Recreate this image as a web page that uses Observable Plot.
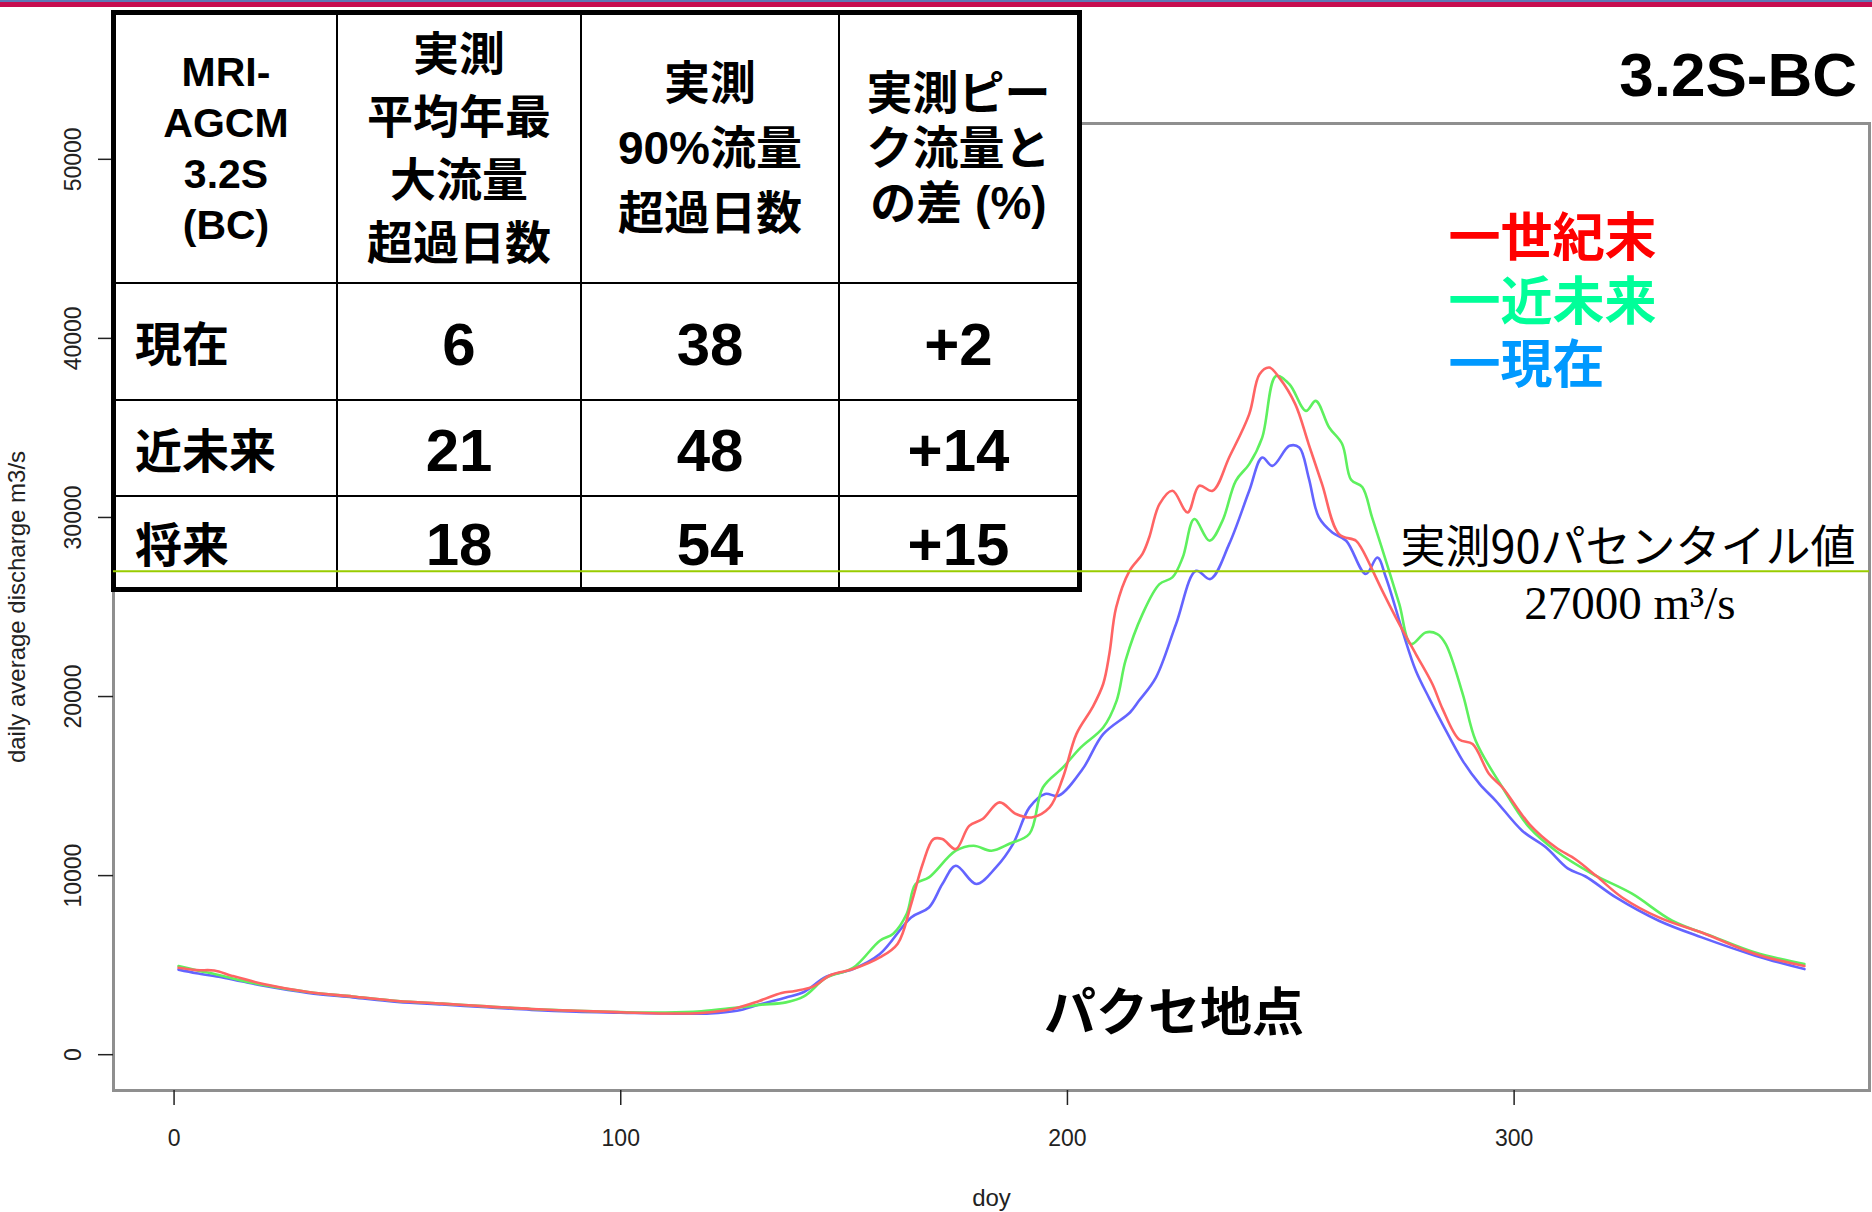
<!DOCTYPE html>
<html><head><meta charset="utf-8">
<script src="https://cdn.jsdelivr.net/npm/d3@7"></script>
<script src="https://cdn.jsdelivr.net/npm/@observablehq/plot@0.6"></script>
<style>
body{margin:0;background:#fff}
#wrap{position:relative;width:1872px;height:1212px;overflow:hidden;background:#fff}
#wrap > svg{position:absolute;left:0;top:0}
.cell{background:#fff;display:flex;flex-direction:column;align-items:center;justify-content:center;text-align:center;white-space:nowrap}
</style></head><body><div id="wrap"></div><script>
// ---- data (day of year, daily average discharge m3/s) ----
const seikimatsu = [[1,4850],[5,4720],[9,4700],[13,4400],[20,3950],[30,3500],[40,3250],[50,3000],[60,2850],[70,2700],[80,2550],[90,2450],[100,2370],[110,2300],[118,2330],[125,2550],[131,3000],[136,3450],[139,3560],[143,3800],[147,4450],[152,4780],[158,5430],[162,6200],[165,8400],[167.6,10650],[170,12040],[172,12040],[175,11480],[178,12780],[181,13160],[184.8,14090],[188.5,13440],[192,13250],[196,13810],[199,15480],[202,17900],[205.6,19390],[208,20700],[209.4,22400],[210.9,24970],[213.9,27020],[216.8,27970],[218.3,28880],[220.6,30740],[223.5,31490],[226.9,30280],[229.5,31770],[232.5,31490],[236.2,33350],[240.7,35770],[243,38000],[245.2,38370],[247.4,37810],[251,36330],[254,34100],[257,31860],[260.8,29070],[264.6,28700],[266,28200],[270.5,25900],[274.3,24040],[278,22370],[281.7,20700],[284,19300],[287.7,17600],[290.7,17350],[294.4,15670],[297.4,14920],[303.4,12880],[309.3,11580],[313.8,10900],[318.3,10000],[324.2,8780],[332.4,7665],[342.8,6740],[354,5620],[365,4950]];
const kinmirai = [[1,4950],[5,4720],[10,4450],[15,4150],[20,3900],[30,3500],[40,3250],[50,3000],[60,2850],[70,2700],[80,2550],[90,2450],[100,2380],[110,2350],[118,2420],[125,2600],[131,2780],[137,2920],[141,3250],[146,4300],[152,4850],[158,6365],[161,6755],[164,7855],[166,9530],[169,9900],[175,11390],[179,11670],[183,11390],[187,11780],[191.5,12340],[194.5,14920],[199,16040],[203,17160],[208,18270],[211,19760],[213,22000],[216.8,24600],[220.6,26280],[223.5,26650],[225.8,27760],[228.4,29910],[231.8,28700],[234.7,29810],[237.7,32050],[240.7,32980],[243.6,34460],[246.7,37900],[249.7,37440],[253.4,35950],[255.6,36510],[258.6,35020],[261.5,34100],[263.5,32100],[266,31700],[268.2,30000],[271.3,27580],[274.3,25160],[276.9,22930],[280.2,23580],[282.8,23490],[284.7,22930],[288.5,20140],[291.4,17530],[297.4,14920],[303.4,12690],[309.3,11390],[317.5,10100],[326.4,8990],[335.4,7480],[345,6550],[354,5710],[365,5060]];
const genzai = [[1,4750],[5,4550],[10,4350],[15,4100],[20,3850],[30,3450],[40,3200],[50,2950],[60,2800],[70,2650],[80,2500],[90,2400],[100,2350],[110,2300],[120,2300],[126,2450],[131,2800],[137,3200],[141,3500],[146,4350],[152,4780],[158,5620],[165,7665],[169,8220],[172,9530],[175,10550],[179.6,9530],[184,10460],[187.8,11760],[191.5,13810],[195,14560],[198,14460],[203.4,15950],[208,17900],[214,19110],[216,19760],[219.8,21060],[224.3,24040],[228.8,27020],[232,26560],[236.2,28510],[240.7,31490],[243.6,33350],[245.9,32880],[249.7,34000],[251.9,33910],[254,32230],[256.3,30000],[259.3,29160],[262.4,28700],[266.8,26840],[269.4,27760],[271.3,26650],[275,23670],[278,21440],[281,19900],[284,18450],[288.5,16410],[292.3,15110],[295.9,14180],[301.8,12510],[307.1,11580],[312,10400],[316,9950],[322.8,8780],[332.4,7480],[342,6550],[354,5530],[365,4780]];
const threshold = 27000;
const xTicks = [0, 100, 200, 300];
const yTicks = [0, 10000, 20000, 30000, 40000, 50000];
const xLabel = "doy";
const yLabel = "daily average discharge m3/s";
const headerCells = [["MRI-","AGCM","3.2S","(BC)"],["実測","平均年最","大流量","超過日数"],["実測","90%流量","超過日数"],["実測ピー","ク流量と","の差 (%)"]];
const scenarios = ["現在","近未来","将来"];
const daysOverAnnualMax = [6, 21, 18];
const daysOver90 = [38, 48, 54];
const peakDiffPct = ["+2", "+14", "+15"];
const legendLabels = ["一世紀末","一近未来","一現在"];
const legendColors = ["#ff0000","#00ff99","#0099ff"];
const modelLabel = "3.2S-BC";
const stationLabel = "パクセ地点";
const thresholdLabel1 = "実測90パセンタイル値";
const thresholdLabel2 = "27000 m³/s";

const toRows = (arr) => arr.map(([day, q]) => ({day, q}));

const wrap = document.getElementById("wrap");
const common = {width:1872, height:1212, marginLeft:113, marginRight:3, marginTop:123, marginBottom:122};
const xDomain = [-13.56, 379.56];
const yDomain = [-2000, 52000];

const chart = Plot.plot({
  ...common,
  style:{background:"transparent", fontFamily:"'Liberation Sans', Arial, sans-serif", color:"#222"},
  x:{domain:xDomain},
  y:{domain:yDomain},
  marks:[
    Plot.frame({stroke:"#8f8f8f", strokeWidth:3}),
    Plot.axisX({ticks:xTicks, tickSize:15, tickPadding:24, fontSize:23, strokeWidth:1.5, label:null, tickFormat:d => String(d)}),
    Plot.axisY({ticks:yTicks, tickSize:15, tickPadding:18, tickRotate:-90, fontSize:23, strokeWidth:1.5, label:null, tickFormat:d => String(d)}),
    Plot.text([xLabel], {frameAnchor:"bottom", dy:108, fontSize:24, lineAnchor:"middle", textAnchor:"middle"}),
    Plot.text([yLabel], {frameAnchor:"left", dx:-96, rotate:-90, fontSize:24, lineAnchor:"middle", textAnchor:"middle"}),
    Plot.line(toRows(genzai), {x:"day", y:"q", stroke:"#6464ff", strokeWidth:2.6, curve:"catmull-rom"}),
    Plot.line(toRows(kinmirai), {x:"day", y:"q", stroke:"#5ef05e", strokeWidth:2.6, curve:"catmull-rom"}),
    Plot.line(toRows(seikimatsu), {x:"day", y:"q", stroke:"#ff6464", strokeWidth:2.6, curve:"catmull-rom"})
  ]
});
wrap.appendChild(chart);

// table
const tbl = document.createElement("div");
tbl.style.cssText = "position:absolute;left:111px;top:10px;width:971px;height:582px;box-sizing:border-box;border:5px solid #000;background:#000;display:grid;grid-template-columns:220px 242px 256px 237px;grid-template-rows:267px 115px 94px 90px;gap:2px;font-family:'Liberation Sans','Noto Sans CJK JP',sans-serif;font-weight:bold;color:#000";
const headerStyles = [
  {fs:41, lh:51},{fs:46, lh:63},{fs:46, lh:65},{fs:46, lh:55}
];
headerCells.forEach((lines, i) => {
  const c = document.createElement("div");
  c.className = "cell";
  c.style.fontSize = headerStyles[i].fs + "px";
  c.style.lineHeight = headerStyles[i].lh + "px";
  c.innerHTML = lines.map(l => `<div>${l}</div>`).join("");
  tbl.appendChild(c);
});
scenarios.forEach((s, r) => {
  const vals = [s, String(daysOverAnnualMax[r]), String(daysOver90[r]), peakDiffPct[r]];
  vals.forEach((v, i) => {
    const c = document.createElement("div");
    c.className = "cell";
    c.style.lineHeight = "1";
    c.style.paddingTop = "6px";
    if (i === 0) {
      c.style.alignItems = "flex-start";
      c.style.paddingLeft = "19px";
      c.style.fontSize = "47px";
    } else {
      c.style.fontSize = "60px";
    }
    c.textContent = v;
    tbl.appendChild(c);
  });
});
wrap.appendChild(tbl);

// overlay: threshold rule, its labels and the legend, drawn above the table
const cjk = "'Noto Sans CJK JP', sans-serif";
const cjkCompact = "'Liberation Sans', 'Noto Sans CJK JP', sans-serif";
const overlay = Plot.plot({
  ...common,
  style:{background:"transparent", pointerEvents:"none"},
  x:{domain:xDomain, axis:null},
  y:{domain:yDomain, axis:null},
  marks:[
    Plot.ruleY([threshold], {stroke:"#99cc00", strokeWidth:2}),
    Plot.text([thresholdLabel1], {y:() => threshold, frameAnchor:"right", textAnchor:"end", dx:-14, dy:-23, lineAnchor:"middle", fontSize:45, fontFamily:cjk, fill:"#000"}),
    Plot.text([thresholdLabel2], {y:() => threshold, frameAnchor:"right", textAnchor:"end", dx:-134, dy:33, lineAnchor:"middle", fontSize:47, fontFamily:"'Liberation Serif', 'Times New Roman', serif", fill:"#000"}),
    ...legendLabels.map((t, i) => Plot.text([t], {frameAnchor:"top-right", textAnchor:"start", lineAnchor:"middle", dx:-421, dy:116 + i * 63.5, fontSize:52, fontWeight:"bold", fontFamily:cjkCompact, fill:legendColors[i]}))
  ]
});
wrap.appendChild(overlay);

// banner
const b1 = document.createElement("div");
b1.style.cssText = "position:absolute;left:0;top:0;width:1872px;height:2px;background:#5d79b6";
const b2 = document.createElement("div");
b2.style.cssText = "position:absolute;left:0;top:2px;width:1872px;height:5px;background:#c60d4f";
wrap.appendChild(b1); wrap.appendChild(b2);

// model label
const ml = document.createElement("div");
ml.style.cssText = "position:absolute;right:15px;top:44px;font:bold 62px/62px 'Liberation Sans',Arial,sans-serif;color:#000";
ml.textContent = modelLabel;
wrap.appendChild(ml);

// station label
const st = document.createElement("div");
st.style.cssText = "position:absolute;left:1044px;top:983px;font:bold 52px/52px 'Noto Sans CJK JP',sans-serif;color:#000";
st.textContent = stationLabel;
wrap.appendChild(st);
</script></body></html>
